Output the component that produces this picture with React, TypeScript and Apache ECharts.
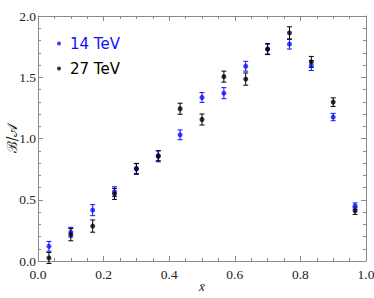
import React, { useEffect, useRef } from "react";
import * as echarts from "echarts";

const xBins = [0.0333, 0.1, 0.1667, 0.2333, 0.3, 0.3667, 0.4333, 0.5, 0.5667, 0.6333, 0.7, 0.7667, 0.8333, 0.9, 0.9667];
const val14 = [0.12, 0.235, 0.415, 0.566, 0.755, 0.86, 1.03, 1.335, 1.37, 1.59, 1.73, 1.77, 1.595, 1.175, 0.449];
const err14 = [0.04, 0.04, 0.045, 0.04, 0.04, 0.04, 0.04, 0.04, 0.045, 0.04, 0.04, 0.04, 0.04, 0.03, 0.025];
const val27 = [0.025, 0.215, 0.285, 0.548, 0.752, 0.855, 1.243, 1.155, 1.505, 1.485, 1.73, 1.862, 1.625, 1.297, 0.41];
const err27 = [0.045, 0.05, 0.05, 0.045, 0.045, 0.045, 0.045, 0.045, 0.045, 0.05, 0.045, 0.05, 0.045, 0.035, 0.03];
const xTicks = [0, 0.2, 0.4, 0.6, 0.8, 1.0];
const yTicks = [0, 0.5, 1.0, 1.5, 2.0];
const seriesNames = ["14 TeV", "27 TeV"];

const BLUE = "#0f0fff";
const BLACK = "#000000";
const FRAME = "#8a8a8a";

function errorSeries(vals: number[], errs: number[], color: string) {
  const data = xBins.map((x, i) => [x, vals[i] - errs[i], vals[i] + errs[i]]);
  return {
    type: "custom",
    name: "err-" + color,
    silent: true,
    z: 2,
    renderItem: (params: any, api: any) => {
      const x = api.value(0);
      const lo = api.coord([x, api.value(1)]);
      const hi = api.coord([x, api.value(2)]);
      const cap = 2.5;
      const style = { stroke: color, lineWidth: 1 };
      return {
        type: "group",
        children: [
          { type: "line", shape: { x1: lo[0], y1: lo[1], x2: hi[0], y2: hi[1] }, style },
          { type: "line", shape: { x1: lo[0] - cap, y1: lo[1], x2: lo[0] + cap, y2: lo[1] }, style },
          { type: "line", shape: { x1: hi[0] - cap, y1: hi[1], x2: hi[0] + cap, y2: hi[1] }, style },
        ],
      };
    },
    encode: { x: 0, y: [1, 2] },
    data,
  };
}

export default function App() {
  const ref = useRef<HTMLDivElement>(null);
  useEffect(() => {
    if (!ref.current) return;
    const chart = echarts.init(ref.current, undefined, { renderer: "svg" });
    const tickFont = { fontFamily: "Liberation Serif", fontSize: 13.5, color: "#222" };
    const commonX = {
      type: "value",
      min: 0,
      max: 1,
      interval: 0.2,
      axisLine: { show: true, onZero: false, lineStyle: { color: FRAME, width: 1 } },
      axisTick: { show: true, inside: true, length: 5, lineStyle: { color: FRAME } },
      minorTick: { show: true, splitNumber: 4, length: 3, lineStyle: { color: FRAME } },
      splitLine: { show: false },
    };
    const commonY = {
      type: "value",
      min: 0,
      max: 2,
      interval: 0.5,
      axisLine: { show: true, onZero: false, lineStyle: { color: FRAME, width: 1 } },
      axisTick: { show: true, inside: true, length: 5, lineStyle: { color: FRAME } },
      minorTick: { show: true, splitNumber: 5, length: 3, lineStyle: { color: FRAME } },
      splitLine: { show: false },
    };
    chart.setOption({
      animation: false,
      backgroundColor: "#ffffff",
      grid: { left: 38, right: 8, top: 16, bottom: 37, outerBoundsMode: "none", containLabel: false },
      legend: {
        orient: "vertical",
        left: 52,
        top: 31,
        itemGap: 10,
        itemWidth: 4,
        itemHeight: 4,
        icon: "circle",
        data: [
          { name: seriesNames[0], textStyle: { color: BLUE } },
          { name: seriesNames[1], textStyle: { color: BLACK } },
        ],
        textStyle: { fontFamily: "DejaVu Sans", fontSize: 15, padding: [0, 0, 0, 4] },
      },
      xAxis: [
        {
          ...commonX,
          position: "bottom",
          axisLabel: {
            ...tickFont,
            margin: 6,
            formatter: (v: number) => (xTicks.some((t) => Math.abs(t - v) < 1e-6) ? v.toFixed(1) : ""),
          },
          name: "x\u0304",
          nameLocation: "middle",
          nameGap: 19,
          nameMoveOverlap: false,
          nameTextStyle: { fontFamily: "Liberation Serif", fontStyle: "italic", fontSize: 13, color: "#222" },
        },
        { ...commonX, position: "top", axisLabel: { show: false } },
      ],
      yAxis: [
        {
          ...commonY,
          position: "left",
          axisLabel: {
            ...tickFont,
            margin: 2,
            formatter: (v: number) => (yTicks.some((t) => Math.abs(t - v) < 1e-6) ? v.toFixed(1) : ""),
          },
          name: "\u212C/\uD835\uDC9C",
          nameLocation: "middle",
          nameRotate: 90,
          nameGap: 19,
          nameMoveOverlap: false,
          nameTextStyle: { fontFamily: "DejaVu Serif", fontSize: 14, color: "#222" },
        },
        { ...commonY, position: "right", axisLabel: { show: false } },
      ],
      series: [
        errorSeries(val14, err14, BLUE),
        errorSeries(val27, err27, BLACK),
        {
          type: "scatter",
          name: seriesNames[0],
          symbol: "circle",
          symbolSize: 5,
          itemStyle: { color: BLUE },
          z: 3,
          data: xBins.map((x, i) => [x, val14[i]]),
        },
        {
          type: "scatter",
          name: seriesNames[1],
          symbol: "circle",
          symbolSize: 5,
          itemStyle: { color: BLACK },
          z: 4,
          data: xBins.map((x, i) => [x, val27[i]]),
        },
      ],
    });
    return () => chart.dispose();
  }, []);
  return <div ref={ref} style={{ position: "fixed", left: 0, top: 0, width: 374, height: 298 }} />;
}
